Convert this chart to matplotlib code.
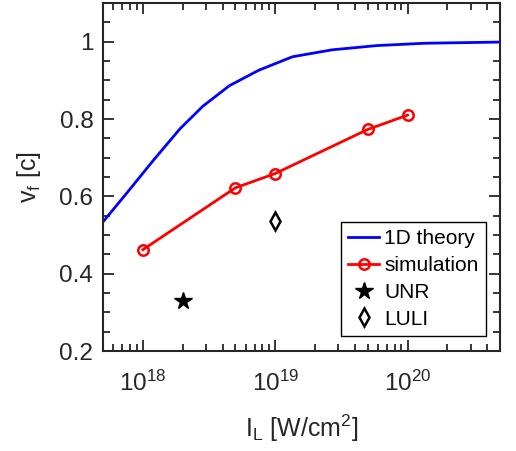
import matplotlib
matplotlib.use("Agg")
import matplotlib.pyplot as plt
from matplotlib.ticker import FixedLocator, LogLocator, NullFormatter, MultipleLocator
import numpy as np

plt.rcParams['font.family'] = ['Liberation Sans', 'DejaVu Sans']
plt.rcParams['mathtext.fontset'] = 'custom'
plt.rcParams['mathtext.rm'] = 'Liberation Sans'
plt.rcParams['mathtext.it'] = 'Liberation Sans'

# 1D theory curve
theory_I = [5e17, 7.5e17, 1.2e18, 1.9e18, 2.84e18, 4.5e18, 7.5e18, 1.35e19,
            2.7e19, 5.9e19, 1.36e20, 5e20]
theory_v = [0.534, 0.607, 0.693, 0.774, 0.833, 0.886, 0.926, 0.961,
            0.979, 0.990, 0.996, 0.999]

# PIC runs
sim_I = [1e18, 5e18, 1e19, 5e19, 1e20]
sim_v = [0.462, 0.622, 0.659, 0.773, 0.810]

# experiments
unr_I = [2e18]
unr_v = [0.330]
luli_I = [1e19]
luli_v = [0.536]

axis_color = '#262626'

fig = plt.figure(figsize=(5.16, 4.51), dpi=100)
ax = fig.add_axes([0.1996, 0.2217, 0.7694, 0.7716])

ax.plot(theory_I, theory_v, color='#0000ff', lw=2.0, label='1D theory')
ax.plot(sim_I, sim_v, color='#ff0000', lw=2.0, marker='o', ms=7.5, mfc='none',
        mew=1.8, label='simulation')
ax.plot(unr_I, unr_v, ls='none', marker='*', color='black', ms=13, label='UNR')
ax.plot(luli_I, luli_v, ls='none', marker='d', mfc='none', mec='black', mew=1.8,
        ms=9, label='LULI')

ax.set_xscale('log')
ax.set_xlim(5e17, 5e20)
ax.set_ylim(0.2, 1.1)

ax.xaxis.set_major_locator(FixedLocator([1e18, 1e19, 1e20]))
ax.set_xticklabels([r'10$^{18}$', r'10$^{19}$', r'10$^{20}$'])
ax.xaxis.set_minor_locator(LogLocator(base=10, subs=np.arange(2, 10)))
ax.xaxis.set_minor_formatter(NullFormatter())
ax.set_yticks([0.2, 0.4, 0.6, 0.8, 1.0])
ax.set_yticklabels(['0.2', '0.4', '0.6', '0.8', '1'])
ax.yaxis.set_minor_locator(MultipleLocator(0.05))

ax.tick_params(which='both', direction='in', top=True, right=True,
               color=axis_color, width=1.3, labelsize=17.5, labelcolor=axis_color)
ax.tick_params(which='major', length=8)
ax.tick_params(which='minor', length=5)
ax.tick_params(axis='x', which='major', pad=14)
ax.tick_params(axis='y', which='major', pad=7)
for s in ax.spines.values():
    s.set_color(axis_color)
    s.set_linewidth(1.5)

ax.set_xlabel(r'I$_\mathregular{L}$ [W/cm$^\mathregular{2}$]', fontsize=18,
              color=axis_color, labelpad=12)
ax.set_ylabel(r'v$_\mathregular{f}$ [c]', fontsize=18, color=axis_color, labelpad=12)

leg = ax.legend(loc='lower right', fontsize=15, handlelength=1.5, handletextpad=0.25,
                borderpad=0.35, labelspacing=0.38, fancybox=False, framealpha=1,
                edgecolor='black', borderaxespad=0, bbox_to_anchor=(0.965, 0.043))
leg.get_frame().set_linewidth(1.0)

fig.savefig('out.png', dpi=100)
